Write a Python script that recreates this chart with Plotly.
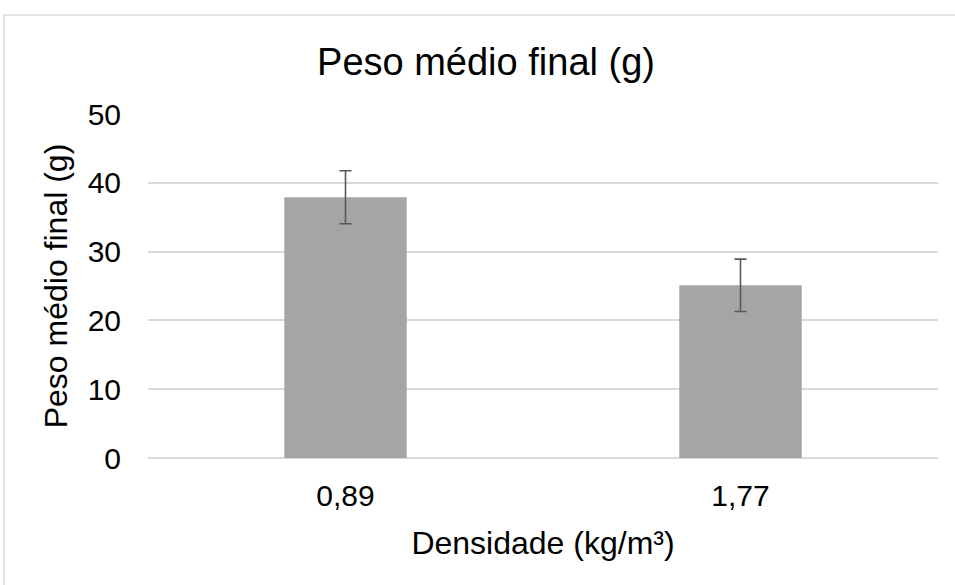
import plotly.graph_objects as go

categories = ["0,89", "1,77"]
peso_medio = [37.9, 25.1]
erro = [3.85, 3.8]
y_ticks = [0, 10, 20, 30, 40, 50]

W, H = 955, 585
L, R, T, B = 148, 17, 114, 127
pw, ph = W - L - R, H - T - B

fig = go.Figure()
fig.add_trace(go.Bar(
    x=categories, y=peso_medio,
    marker=dict(color="#a5a5a5", line=dict(width=0)),
    width=0.31,
    error_y=dict(type="data", array=erro, visible=True,
                 color="#595959", thickness=1.6, width=6),
))

def px_x(x):
    return (x - L) / pw

def px_y(y):
    return (H - B - y) / ph

fig.update_layout(
    width=W, height=H,
    margin=dict(l=L, r=R, t=T, b=B),
    paper_bgcolor="white", plot_bgcolor="white",
    font=dict(family="Liberation Sans, Arial, sans-serif", color="#000000"),
    showlegend=False,
    title=dict(text="Peso médio final (g)", x=486 / W, xref="container",
               xanchor="center", y=1 - 62 / H, yref="container", yanchor="middle",
               font=dict(size=38, color="#000000")),
    xaxis=dict(
        showgrid=False, showline=False, ticks="", zeroline=False,
        tickfont=dict(size=30), ticklabelstandoff=17,
        title=dict(text="Densidade (kg/m³)", font=dict(size=32), standoff=20),
    ),
    yaxis=dict(
        range=[0, 50], tickvals=y_ticks, showgrid=True, gridcolor="#d9d9d9",
        gridwidth=1.5, zeroline=True, zerolinecolor="#d9d9d9", zerolinewidth=1.5,
        showline=False, ticks="", tickfont=dict(size=30), ticklabelstandoff=26,
        title=dict(text="Peso médio final (g)", font=dict(size=32), standoff=10),
    ),
    shapes=[dict(type="rect", xref="paper", yref="paper",
                 x0=px_x(4), x1=px_x(W + 10), y0=px_y(H + 10), y1=px_y(15),
                 line=dict(color="#d9d9d9", width=1.5), fillcolor="rgba(0,0,0,0)",
                 layer="below")],
)

fig.write_html("out.html", config={"displayModeBar": False},
               post_script="document.body.style.margin='0';")
